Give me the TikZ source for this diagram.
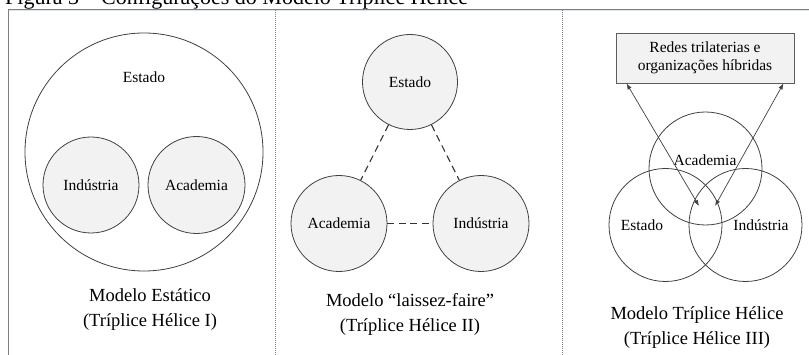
\documentclass[tikz,border=0pt]{standalone}
\usepackage{fontspec}
\setmainfont{Liberation Serif}
\usetikzlibrary{arrows.meta}
\definecolor{edge}{HTML}{404040}
\definecolor{shade}{HTML}{F2F2F2}
\definecolor{rule}{HTML}{7F7F7F}
\definecolor{rulelight}{HTML}{DCE4EE}
\newcommand{\labfont}{\fontsize{15.5}{18.5}\selectfont}
\newcommand{\capfont}{\fontsize{18.5}{25}\selectfont}
\begin{document}
\begin{tikzpicture}[x=1pt,y=-1pt,
  ring/.style={circle,draw=edge,line width=0.8pt,inner sep=0pt},
  actor/.style={ring,fill=shade,font=\labfont},
  lbl/.style={inner sep=0pt,font=\labfont},
  capt/.style={align=center,inner sep=0pt,font=\capfont},
  netbox/.style={draw=edge!85,line width=0.9pt,fill=shade,align=center,
    inner sep=0pt,font=\labfont},
  link/.style={draw=black!80,line width=1.1pt,dash pattern=on 7pt off 4.5pt},
  flow/.style={draw=edge,line width=0.7pt,{Latex[length=6pt,width=4.5pt]}-{Latex[length=6pt,width=4.5pt]}},
  frame/.style={draw=rule,line width=1pt},
  divider/.style={draw=rule,line width=1pt,dash pattern=on 1pt off 1pt}]
\useasboundingbox (0,0) rectangle (809,355);

% caption line, partly cut by the page edge
\node[anchor=base west,inner sep=0pt,font=\fontsize{22}{26}\selectfont] (title) at (5,4.5)
  {Figura 3 – Configurações do Modelo Tríplice Hélice};

% table frame and column dividers
\draw[rulelight,line width=1pt] (9,11) -- (809,11);
\draw[frame] (8,355) -- (8,9.5) -- (809,9.5);
\draw[divider] (275,10) -- (275,355);
\draw[divider] (562,10) -- (562,355);

% --- static model ---
\node[ring,minimum size=238] (state1) at (144,152) {};
\node[lbl] (state1lbl) at (144,77) {Estado};
\node[actor,minimum size=96] (ind1) at (91,185) {Indústria};
\node[actor,minimum size=97] (aca1) at (196.5,185) {Academia};
\node[capt] (cap1) at (150,310) {Modelo Estático\\(Tríplice Hélice I)};

% --- laissez-faire model ---
\node[actor,minimum size=95] (state2) at (410,82) {Estado};
\node[actor,minimum size=96] (aca2) at (339,223.5) {Academia};
\node[actor,minimum size=96] (ind2) at (481,223.5) {Indústria};
\draw[link] (state2) -- (aca2);
\draw[link] (state2) -- (ind2);
\draw[link] (aca2) -- (ind2);
\node[capt] (cap2) at (410,314) {Modelo “laissez-faire”\\(Tríplice Hélice II)};

% --- triple helix model ---
\node[ring,minimum size=113] (aca3) at (705.5,168.5) {};
\node[ring,minimum size=113] (state3) at (665.5,225) {};
\node[ring,minimum size=113] (ind3) at (745.5,225) {};
\node[lbl] (aca3lbl) at (705,160) {Academia};
\node[lbl] (state3lbl) at (642,225) {Estado};
\node[lbl] (ind3lbl) at (761,225) {Indústria};
\node[netbox,minimum width=178,minimum height=50] (nets) at (705,58)
  {Redes trilaterias e\\organizações híbridas};
\coordinate (nl) at ([xshift=11pt]nets.south west);
\coordinate (nr) at ([xshift=-11pt]nets.south east);
\coordinate (core1) at (699,206);
\coordinate (core2) at (715,206);
\draw[flow] (nl) -- (core1);
\draw[flow] (nr) -- (core2);
\node[capt] (cap3) at (697,328) {Modelo Tríplice Hélice\\(Tríplice Hélice III)};
\end{tikzpicture}
\end{document}
